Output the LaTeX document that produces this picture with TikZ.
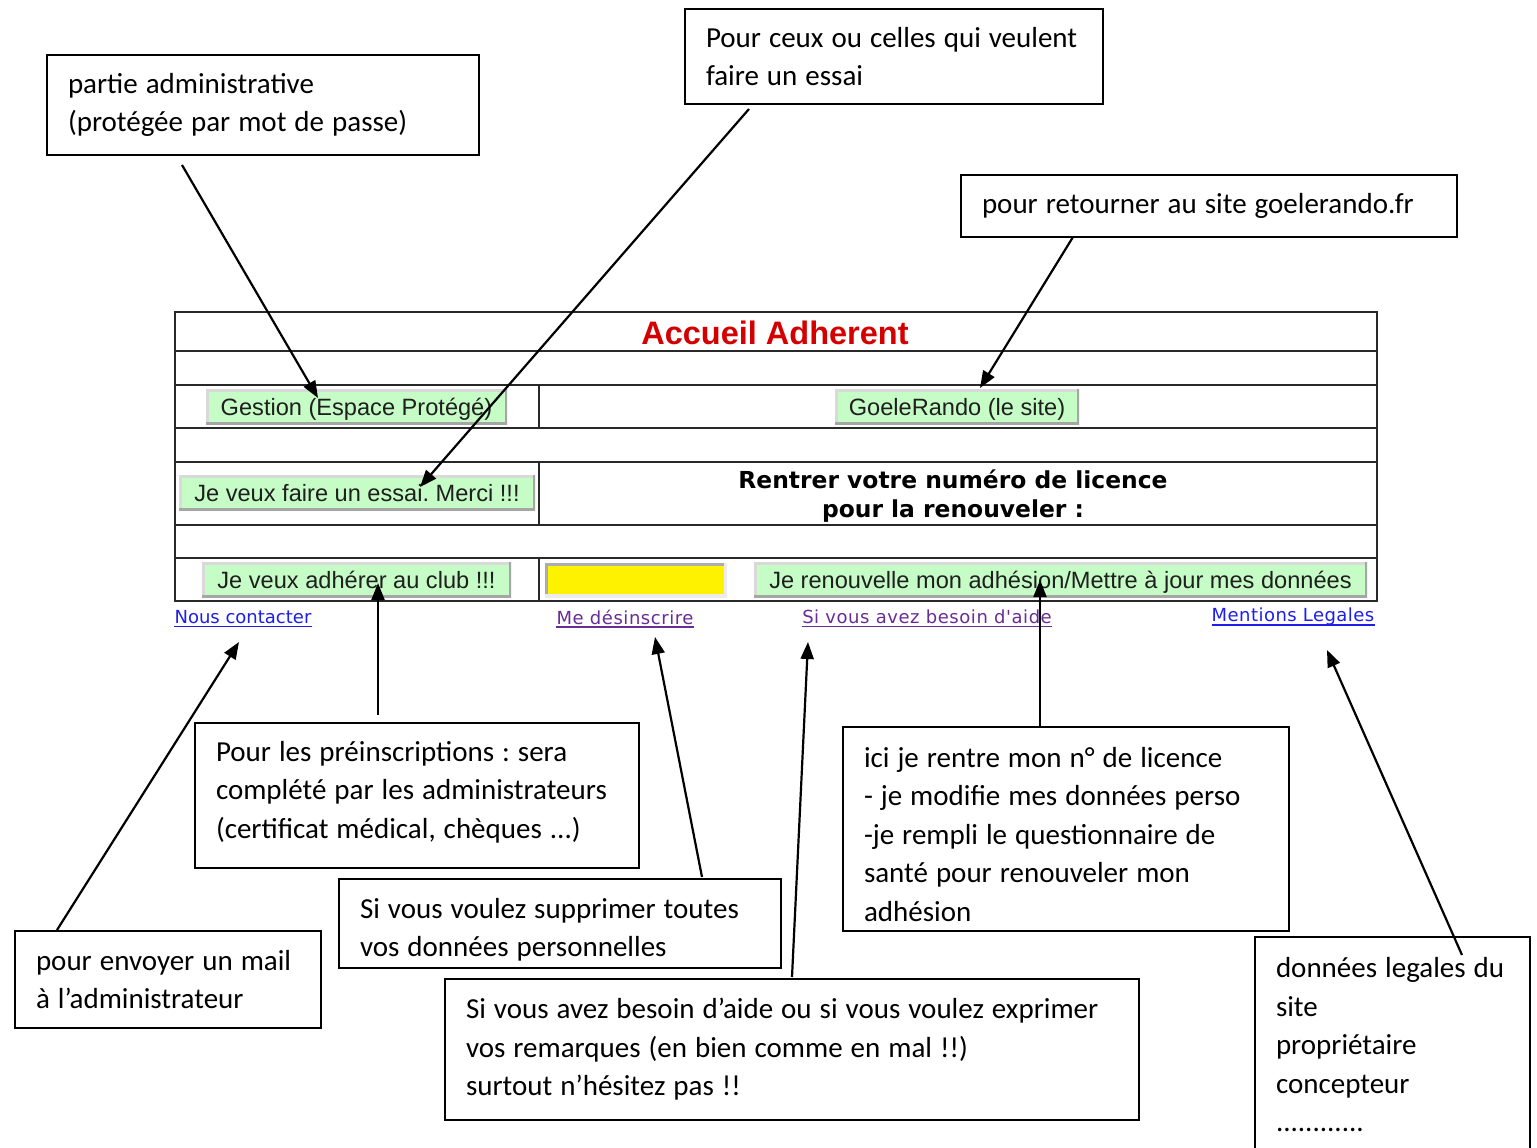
\documentclass[tikz,border=0pt]{standalone}
\usepackage{fontspec}
\setmainfont{Carlito}[WordSpace=1.22]
\newfontfamily\arialf{Liberation Sans}
\newfontfamily\verdf{DejaVu Sans}
\usetikzlibrary{arrows.meta,calc}
\definecolor{btngreen}{RGB}{198,252,198}
\definecolor{linkblue}{RGB}{30,30,235}
\definecolor{linkpurple}{RGB}{105,45,150}
\definecolor{titlered}{RGB}{212,0,0}
\definecolor{tblline}{RGB}{40,40,40}
\frenchspacing
\hyphenpenalty=10000\relax
\begin{document}
\begin{tikzpicture}[x=1pt,y=-1pt,
  annot/.style={draw=black,line width=2pt,fill=white,inner xsep=21pt,inner ysep=0pt,
    align=flush left,anchor=north west,font=\fontsize{29pt}{38.5pt}\selectfont},
  btn/.style={fill=btngreen,draw=none,inner sep=0pt,text=black!88,text height=21pt,text depth=4pt,
    font=\arialf\fontsize{23.6pt}{26pt}\selectfont,
    path picture={
      \draw[gray!30,line width=5pt] (path picture bounding box.south west) -- (path picture bounding box.north west) -- (path picture bounding box.north east);
      \draw[gray!70,line width=5pt] (path picture bounding box.south west) -- (path picture bounding box.south east) -- (path picture bounding box.north east);}},
  inputbox/.style={fill=yellow,draw=none,inner sep=0pt,
    path picture={
      \draw[gray!65,line width=6pt] (path picture bounding box.south west) -- (path picture bounding box.north west) -- (path picture bounding box.north east);
      \draw[gray!15,line width=6pt] (path picture bounding box.south west) -- (path picture bounding box.south east) -- (path picture bounding box.north east);}},
  lnk/.style={inner sep=0pt,font=\verdf\fontsize{18pt}{20pt}\selectfont},
  tbl/.style={draw=tblline,line width=2pt},
  arr/.style={line width=2.2pt,-{Triangle[length=17pt,width=13pt]}}
]
\useasboundingbox (0,0) rectangle (1537,1148);
\fill[white] (0,0) rectangle (1537,1148);
\clip (0,0) rectangle (1537,1148);

% ---- web page table ----
\draw[tbl] (175,312) rectangle (1377,601);
\foreach \yy in {351,385,428,462,525,558} \draw[tbl] (175,\yy) -- (1377,\yy);
\draw[tbl] (539,385) -- (539,428);
\draw[tbl] (539,462) -- (539,525);
\draw[tbl] (539,558) -- (539,601);

\node[font=\arialf\bfseries\fontsize{32.5pt}{34pt}\selectfont,text=titlered] (title) at (775,333) {Accueil Adherent};
\node[font=\verdf\bfseries\fontsize{23.4pt}{29pt}\selectfont,align=center,inner sep=0pt] (licence) at (953,496) {Rentrer votre numéro de licence\\pour la renouveler :};

\node[btn,minimum width=301pt,minimum height=35pt] (gest) at (356.5,406.5) {Gestion (Espace Protégé)};
\node[btn,minimum width=244pt,minimum height=35pt] (goele) at (957,406.5) {GoeleRando (le site)};
\node[btn,minimum width=356pt,minimum height=35pt] (essai) at (357,492.5) {Je veux faire un essai. Merci !!!};
\node[btn,minimum width=309pt,minimum height=35pt] (adh) at (356.5,579.5) {Je veux adhérer au club !!!};
\node[inputbox,minimum width=182pt,minimum height=34pt] (num) at (636,580) {};
\node[btn,minimum width=613pt,minimum height=35pt] (renouv) at (1060.5,579.5) {Je renouvelle mon adhésion/Mettre à jour mes données};

\node[lnk,text=linkblue] (contact) at (243,617) {Nous contacter};
\node[lnk,text=linkpurple] (desinsc) at (625,617) {\addfontfeature{LetterSpace=3}Me désinscrire};
\node[lnk,text=linkpurple] (aide) at (927,617) {\addfontfeature{LetterSpace=3}Si vous avez besoin d'aide};
\node[lnk,text=linkblue] (mentions) at (1293,617) {\addfontfeature{LetterSpace=2.5}Mentions Legales};
\draw[linkblue,line width=1.3pt] ([yshift=-3pt]contact.base west) -- ([yshift=-3pt]contact.base east);
\draw[linkpurple,line width=1.3pt] ([yshift=-3pt]desinsc.base west) -- ([yshift=-3pt]desinsc.base east);
\draw[linkpurple,line width=1.3pt] ([yshift=-3pt]aide.base west) -- ([yshift=-3pt]aide.base east);
\draw[linkblue,line width=1.3pt] ([yshift=-3pt]mentions.base west) -- ([yshift=-3pt]mentions.base east);

% ---- annotation boxes ----
\node[annot,minimum width=432pt,minimum height=100pt,text width=390pt] (admin) at (46,54)
  {partie administrative\\(protégée par mot de passe)};
\node[annot,minimum width=418pt,minimum height=95pt,text width=376pt] (pessai) at (684,8)
  {Pour ceux ou celles qui veulent\\faire un essai};
\node[annot,minimum width=496pt,minimum height=62pt,text width=454pt] (retour) at (960,174)
  {pour retourner au site goelerando.fr};
\node[annot,minimum width=444pt,minimum height=145pt,text width=402pt] (preinsc) at (194,722)
  {Pour les préinscriptions : sera\\complété par les administrateurs\\(certificat médical, chèques ...)\rule[-12pt]{0pt}{0pt}};
\node[annot,minimum width=446pt,minimum height=204pt,text width=404pt] (ici) at (842,726)
  {\rule{0pt}{31pt}ici je rentre mon n° de licence\\- je modifie mes données perso\\-je rempli le questionnaire de\\santé pour renouveler mon\\adhésion};
\node[annot,minimum width=442pt,minimum height=89pt,text width=400pt] (suppr) at (338,878)
  {\rule{0pt}{33pt}Si vous voulez supprimer toutes\\vos données personnelles};
\node[annot,minimum width=306pt,minimum height=97pt,text width=264pt] (mail) at (14,930)
  {pour envoyer un mail\\à l’administrateur};
\node[annot,minimum width=694pt,minimum height=141pt,text width=652pt] (paide) at (444,978)
  {Si vous avez besoin d’aide ou si vous voulez exprimer\\vos remarques (en bien comme en mal !!)\\surtout n’hésitez pas !!};
\node[annot,minimum width=275pt,minimum height=216pt,text width=233pt] (legal) at (1254,936)
  {données legales du\\site\\propriétaire\\concepteur\\............};

% ---- connector ends ----
\coordinate (admin-out) at (182,165);
\coordinate (gest-in) at (318,398);
\coordinate (pessai-out) at (749,109);
\coordinate (essai-in) at (420,487);
\coordinate (retour-out) at (1073,237);
\coordinate (goele-in) at (980,388);
\coordinate (preinsc-out) at (378,715);
\coordinate (adh-in) at (378,583);
\coordinate (ici-out) at (1040,726);
\coordinate (renouv-in) at (1040,580);
\coordinate (mail-out) at (57,930);
\coordinate (contact-in) at (239,642);
\coordinate (suppr-out) at (702,877);
\coordinate (desinsc-in) at (655,637);
\coordinate (paide-out) at (792,977);
\coordinate (aide-in) at (808,642);
\coordinate (legal-out) at (1462,955);
\coordinate (mentions-in) at (1327,650);

\draw[arr] (admin-out) -- (gest-in);
\draw[arr] (pessai-out) -- (essai-in);
\draw[arr] (retour-out) -- (goele-in);
\draw[arr] (preinsc-out) -- (adh-in);
\draw[arr] (ici-out) -- (renouv-in);
\draw[arr] (mail-out) -- (contact-in);
\draw[arr] (suppr-out) -- (desinsc-in);
\draw[arr] (paide-out) -- (aide-in);
\draw[arr] (legal-out) -- (mentions-in);
\end{tikzpicture}
\end{document}
